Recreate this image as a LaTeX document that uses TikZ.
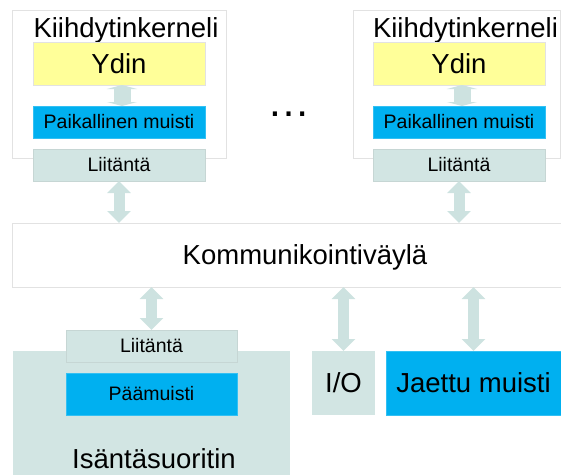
\documentclass[tikz,border=0pt]{standalone}
\usepackage{fontspec}
\setmainfont{Liberation Sans}
\usetikzlibrary{arrows.meta}
\definecolor{ydinyellow}{HTML}{FFFF99}
\definecolor{muistiblue}{HTML}{00B0F0}
\definecolor{liitgreen}{HTML}{D2E5E3}
\definecolor{arrowgreen}{HTML}{CDE2E0}
\definecolor{edgegray}{HTML}{E2E2E2}

\begin{document}
\begin{tikzpicture}[x=1pt,y=-1pt,
    box/.style={inner sep=0pt,outer sep=0pt},
    bigtext/.style={font=\fontsize{27.5}{30}\selectfont},
    smalltext/.style={font=\fontsize{19.5}{22}\selectfont},
    kernelbox/.style={box,draw=edgegray,line width=0.8pt,fill=white},
    ydinbox/.style={box,bigtext,fill=ydinyellow,draw=edgegray,line width=0.4pt,minimum width=172pt,minimum height=43pt},
    muistibox/.style={box,smalltext,fill=muistiblue,draw=muistiblue!80!white,line width=0.4pt},
    liitbox/.style={box,smalltext,fill=liitgreen,draw=liitgreen!85!gray,line width=0.4pt},
    link/.style={line width=11pt,draw=arrowgreen,{Triangle[width=23pt,length=12pt]}-{Triangle[width=23pt,length=12pt]}},
    shortlink/.style={line width=17pt,draw=arrowgreen,{Triangle[width=30pt,length=4pt]}-{Triangle[width=30pt,length=4pt]}}]
    \useasboundingbox (0,0) rectangle (561,474);
    % kiihdytinkernelit
    \node [kernelbox,minimum width=214pt,minimum height=148pt] (kernelL) at (119,84) {};
    \node [bigtext,anchor=base] (titleL) at (126,37) {Kiihdytinkerneli};
    \node [ydinbox] (ydinL) at (119,63.5) {Ydin};
    \node [muistibox,minimum width=172pt,minimum height=32pt] (paikL) at (119,122) {Paikallinen muisti};
    \node [liitbox,minimum width=172pt,minimum height=32pt] (liitL) at (119,165) {Liitäntä};
    \node [kernelbox,minimum width=207pt,minimum height=148pt] (kernelR) at (456.5,84) {};
    \node [bigtext,anchor=base] (titleR) at (465.5,37) {Kiihdytinkerneli};
    \node [ydinbox] (ydinR) at (459,63.5) {Ydin};
    \node [muistibox,minimum width=172pt,minimum height=32pt] (paikR) at (459,122) {Paikallinen muisti};
    \node [liitbox,minimum width=172pt,minimum height=32pt] (liitR) at (459,165) {Liitäntä};
    \node [anchor=base,font=\fontsize{43}{46}\selectfont] (dots) at (288.5,116) {…};
    % väylä
    \node [box,draw=edgegray,line width=0.6pt,fill=white,minimum width=549pt,minimum height=64pt] (bus) at (286.5,255) {};
    \node [bigtext] (busText) at (305,257) {Kommunikointiväylä};
    % isäntä ja muut
    \node [box,fill=liitgreen,minimum width=277pt,minimum height=130pt] (host) at (151.5,416) {};
    \node [liitbox,minimum width=171pt,minimum height=32pt] (liitH) at (151.5,346) {Liitäntä};
    \node [muistibox,minimum width=171pt,minimum height=42pt] (paaH) at (151.5,394) {Päämuisti};
    \node [bigtext,anchor=base] (hostText) at (154,468) {Isäntäsuoritin};
    \node [box,bigtext,fill=liitgreen,minimum width=63pt,minimum height=64pt] (io) at (343.5,383) {I/O};
    \node [muistibox,bigtext,minimum width=175pt,minimum height=64pt] (jaettu) at (473.5,383) {Jaettu muisti};
    % nuolet
    \draw [shortlink] ([xshift=3pt]ydinL.south) -- ([xshift=3pt]paikL.north);
    \draw [shortlink] ([xshift=3pt]ydinR.south) -- ([xshift=3pt]paikR.north);
    \draw [link] (liitL.south) -- (liitL.south |- bus.north);
    \draw [link] (liitR.south) -- (liitR.south |- bus.north);
    \draw [link] (liitH.north) -- (liitH.north |- bus.south);
    \draw [link] (io.north) -- (io.north |- bus.south);
    \draw [link] (jaettu.north) -- (jaettu.north |- bus.south);
\end{tikzpicture}
\end{document}
